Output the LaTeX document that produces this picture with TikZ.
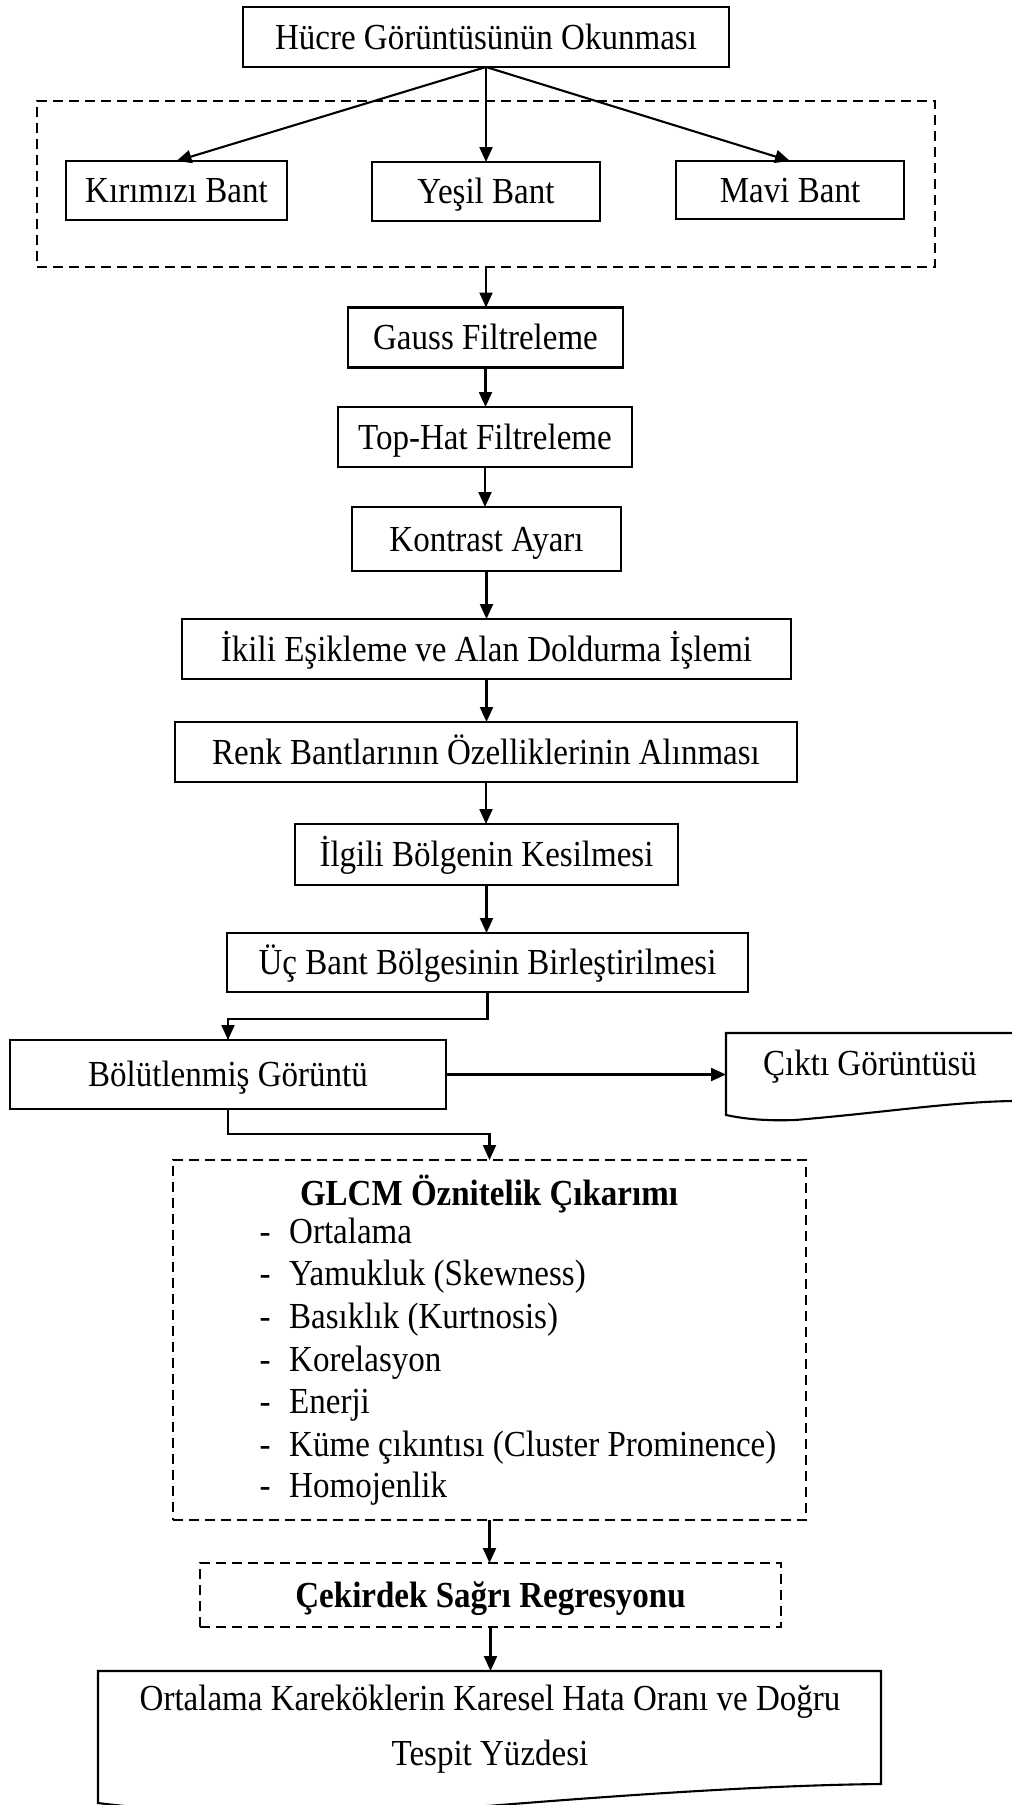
\documentclass[tikz,border=0pt]{standalone}
\usepackage{fontspec}
\setmainfont{Liberation Serif}[FakeStretch=0.9]
\usetikzlibrary{arrows.meta}
\begin{document}
\begin{tikzpicture}[x=1pt,y=-1pt,
  every node/.style={font=\fontsize{36.7}{44}\selectfont},
  box/.style={draw, line width=2.1pt, inner sep=0pt, outer sep=0pt, text height=25pt, text depth=1pt},
  dbox/.style={box, dash pattern=on 10pt off 6pt},
  arr/.style={line width=2.1pt, -{Triangle[length=15pt,width=13pt]}},
  ln/.style={line width=2.1pt},
  item/.style={anchor=mid west, inner sep=0pt},
  dashmark/.style={anchor=mid, inner sep=0pt}]
\useasboundingbox (0,0) rectangle (1012,1805);
\clip (0,0) rectangle (1012,1805);

% top
\node[box, minimum width=486, minimum height=60] (top) at (486,37) {Hücre Görüntüsünün Okunması};
\node[dbox, minimum width=898, minimum height=166] (band) at (486,184) {};
\node[box, minimum width=221, minimum height=59] (kir) at (176.5,190.5) {Kırımızı Bant};
\node[box, minimum width=228, minimum height=59] (yes) at (486,191.5) {Yeşil Bant};
\node[box, minimum width=228, minimum height=58] (mavi) at (790,190) {Mavi Bant};

\node[box, minimum width=275, minimum height=60] (gauss) at (485.5,337.5) {Gauss Filtreleme};
\node[box, minimum width=294, minimum height=60] (tophat) at (485,437) {Top-Hat Filtreleme};
\node[box, minimum width=269, minimum height=64] (kontrast) at (486.5,539) {Kontrast Ayarı};
\node[box, minimum width=609, minimum height=60] (ikili) at (486.5,649) {İkili Eşikleme ve Alan Doldurma İşlemi};
\node[box, minimum width=622, minimum height=60] (renk) at (486,752) {Renk Bantlarının Özelliklerinin Alınması};
\node[box, minimum width=383, minimum height=61] (ilgili) at (486.5,854.5) {İlgili Bölgenin Kesilmesi};
\node[box, minimum width=521, minimum height=59] (uc) at (487.5,962.5) {Üç Bant Bölgesinin Birleştirilmesi};
\node[box, minimum width=436, minimum height=69] (bol) at (228,1074.5) {Bölütlenmiş Görüntü};

% output document shape
\node[minimum width=287, minimum height=82, inner sep=0pt, anchor=north west] (cikti) at (726,1033) {};
\draw[ln] (1012,1033) -- (cikti.north west) -- (726,1115)
  .. controls (745,1119) and (765,1121) .. (795,1120)
  .. controls (880,1113) and (950,1102) .. (1012,1101);
\node[text height=25pt, text depth=1pt, inner sep=0pt] (ciktitext) at (870,1063) {Çıktı Görüntüsü};

% GLCM
\node[dbox, minimum width=633, minimum height=360] (glcm) at (489.5,1340) {};
\node[text height=25pt, text depth=1pt, inner sep=0pt] (glcmtitle) at (489,1193) {\bfseries GLCM Öznitelik Çıkarımı};
\node[dashmark] (d1) at (265,1241) {-};
\node[item] (g1) at (289,1241) {Ortalama};
\node[dashmark] (d2) at (265,1283) {-};
\node[item] (g2) at (289,1283) {Yamukluk (Skewness)};
\node[dashmark] (d3) at (265,1326) {-};
\node[item] (g3) at (289,1326) {Basıklık (Kurtnosis)};
\node[dashmark] (d4) at (265,1369) {-};
\node[item] (g4) at (289,1369) {Korelasyon};
\node[dashmark] (d5) at (265,1411) {-};
\node[item] (g5) at (289,1411) {Enerji};
\node[dashmark] (d6) at (265,1454) {-};
\node[item] (g6) at (289,1454) {Küme çıkıntısı (Cluster Prominence)};
\node[dashmark] (d7) at (265,1495) {-};
\node[item] (g7) at (289,1495) {Homojenlik};

\node[dbox, minimum width=581, minimum height=64] (cek) at (490.5,1595) {\bfseries Çekirdek Sağrı Regresyonu};

% result document shape
\node[minimum width=783, minimum height=132, inner sep=0pt, anchor=north west] (sonuc) at (98,1671) {};
\draw[ln] (sonuc.north west) -- (881,1671) -- (881,1784)
  .. controls (780,1785) and (650,1793) .. (500,1805)
  .. controls (350,1817) and (200,1816) .. (98,1803) -- cycle;
\node[align=center, font=\fontsize{36.7}{55}\selectfont] (sonuctext) at (490,1729) {Ortalama Kareköklerin Karesel Hata Oranı ve Doğru\\Tespit Yüzdesi};

% connectors
\draw[arr] (top.south) -- (kir.north);
\draw[arr] (top.south) -- (yes.north);
\draw[arr] (top.south) -- (mavi.north);
\draw[arr] (band.south) -- (band.south |- gauss.north);
\draw[arr] (gauss.south) -- (gauss.south |- tophat.north);
\draw[arr] (tophat.south) -- (tophat.south |- kontrast.north);
\draw[arr] (kontrast.south) -- (kontrast.south |- ikili.north);
\draw[arr] (ikili.south) -- (ikili.south |- renk.north);
\draw[arr] (renk.south) -- (renk.south |- ilgili.north);
\draw[arr] (ilgili.south) -- (ilgili.south |- uc.north);
\draw[arr] (uc.south) -- ++(0,27) -| (bol.north);
\draw[arr] (bol.east) -- (bol.east -| cikti.west);
\draw[arr] (bol.south) -- ++(0,25) -| (glcm.north);
\draw[arr] (glcm.south) -- (glcm.south |- cek.north);
\draw[arr] (cek.south) -- (cek.south |- sonuc.north);
\end{tikzpicture}
\end{document}
